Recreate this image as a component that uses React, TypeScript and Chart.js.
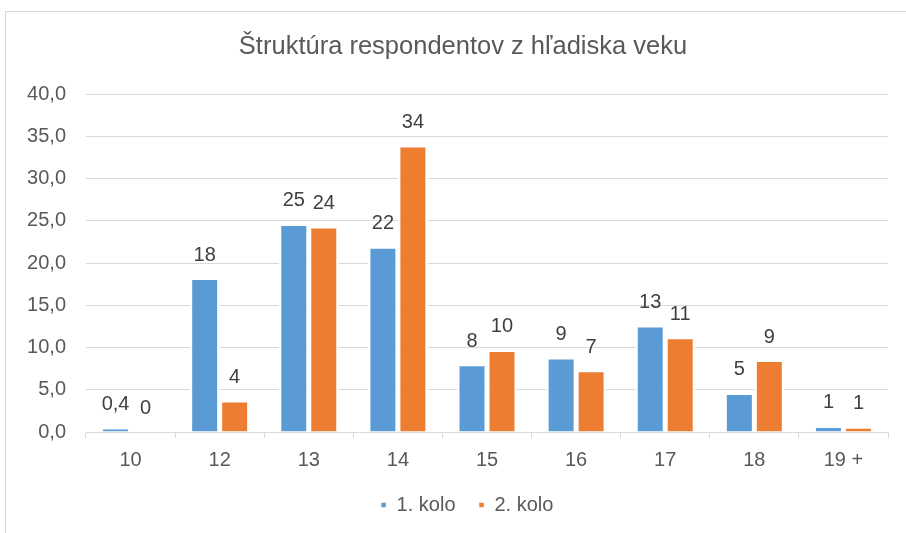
import React, { useEffect, useRef } from "react";
import { Chart, registerables } from "chart.js";

Chart.register(...registerables);

const TITLE = "Štruktúra respondentov z hľadiska veku";
const categories = ["10", "12", "13", "14", "15", "16", "17", "18", "19 +"];
const series1Name = "1. kolo";
const series2Name = "2. kolo";
const series1 = [0.4, 18.1, 24.5, 21.8, 7.9, 8.7, 12.5, 4.5, 0.6];
const series2 = [0.0, 3.6, 24.2, 33.8, 9.6, 7.2, 11.1, 8.4, 0.5];
const labels1 = ["0,4", "18", "25", "22", "8", "9", "13", "5", "1"];
const labels2 = ["0", "4", "24", "34", "10", "7", "11", "9", "1"];
const yMin = 0;
const yMax = 40;
const yStep = 5;

const BLUE = "#5B9BD5";
const ORANGE = "#ED7D31";
const FONT = "'Liberation Sans', Arial, sans-serif";

const frame = {
  id: "frame",
  beforeDraw(chart: any) {
    const { ctx } = chart;
    ctx.save();
    ctx.fillStyle = "#ffffff";
    ctx.fillRect(0, 0, chart.width, chart.height);
    ctx.strokeStyle = "#d9d9d9";
    ctx.lineWidth = 1;
    ctx.strokeRect(5.5, 11.5, 2000, 2000);
    ctx.restore();
  },
};

// The reference's title and legend are centred on the whole outer frame,
// not on the plot; nudge their boxes after layout.
const centerShift = {
  id: "centerShift",
  afterLayout(chart: any) {
    const t = chart.titleBlock;
    if (t) {
      t.left += 19;
      t.right += 19;
    }
    const l = chart.legend;
    if (l) {
      l.left += 23;
      l.right += 23;
      if (l.legendHitBoxes) l.legendHitBoxes.forEach((h: any) => (h.left += 23));
    }
  },
};

const dataLabels = {
  id: "dataLabels",
  afterDatasetsDraw(chart: any) {
    const { ctx } = chart;
    const all = [labels1, labels2];
    ctx.save();
    ctx.font = `20px ${FONT}`;
    ctx.fillStyle = "#404040";
    ctx.textAlign = "center";
    ctx.textBaseline = "middle";
    chart.data.datasets.forEach((_: any, di: number) => {
      const meta = chart.getDatasetMeta(di);
      meta.data.forEach((el: any, i: number) => {
        ctx.fillText(all[di][i], el.x, el.y - 24);
      });
    });
    ctx.restore();
  },
};

export default function App() {
  const ref = useRef<HTMLCanvasElement | null>(null);
  useEffect(() => {
    if (!ref.current) return;
    const barBorder = { top: 1, left: 2.5, right: 2.5, bottom: 0 };
    const chart = new Chart(ref.current, {
      type: "bar",
      data: {
        labels: categories,
        datasets: [
          {
            label: series1Name,
            data: series1,
            backgroundColor: BLUE,
            borderColor: "#ffffff",
            borderWidth: barBorder,
            categoryPercentage: 0.673,
            barPercentage: 1,
          },
          {
            label: series2Name,
            data: series2,
            backgroundColor: ORANGE,
            borderColor: "#ffffff",
            borderWidth: barBorder,
            categoryPercentage: 0.673,
            barPercentage: 1,
          },
        ],
      },
      plugins: [frame, centerShift, dataLabels],
      options: {
        animation: false,
        responsive: false,
        maintainAspectRatio: false,
        layout: { padding: { left: 0, right: 18, top: 0, bottom: 8 } },
        plugins: {
          title: {
            display: true,
            text: TITLE,
            color: "#595959",
            font: { family: FONT, size: 25.5, weight: "normal" },
            padding: { top: 31.7, bottom: 31.7 },
          },
          legend: {
            display: true,
            position: "bottom",
            labels: {
              color: "#595959",
              font: { family: FONT, size: 20 },
              boxWidth: 6,
              boxHeight: 6,
              padding: 23,
            },
          },
          tooltip: { enabled: false },
        },
        scales: {
          x: {
            offset: true,
            afterFit(scale: any) {
              scale.height = 40;
            },
            grid: {
              offset: true,
              drawOnChartArea: false,
              drawTicks: true,
              tickLength: 6,
              color: "#d9d9d9",
            },
            border: { display: true, color: "#d9d9d9", width: 1 },
            ticks: {
              color: "#595959",
              font: { family: FONT, size: 20 },
              padding: 10,
            },
          },
          y: {
            min: yMin,
            max: yMax,
            afterFit(scale: any) {
              scale.width = 86;
            },
            grid: { color: "#d9d9d9", drawTicks: false },
            border: { display: false },
            ticks: {
              stepSize: yStep,
              color: "#595959",
              font: { family: FONT, size: 20 },
              padding: 20,
              callback: (v: any) => Number(v).toFixed(1).replace(".", ","),
            },
          },
        },
      },
    });
    return () => chart.destroy();
  }, []);
  return (
    <div style={{ position: "absolute", left: 0, top: 0, width: 906, height: 533 }}>
      <canvas ref={ref} width={906} height={533} style={{ display: "block" }} />
    </div>
  );
}
